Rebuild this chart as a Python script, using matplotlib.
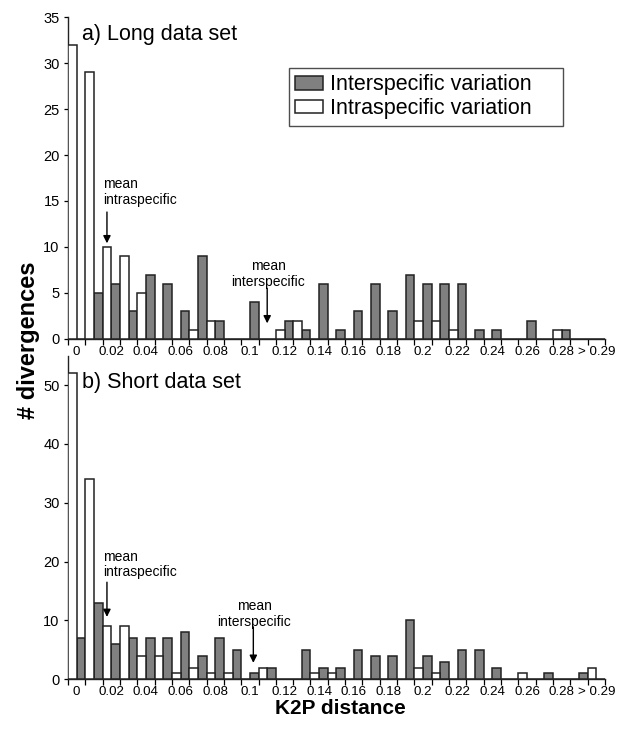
import numpy as np
import matplotlib
matplotlib.use('Agg')
import matplotlib.pyplot as plt

plt.rcParams['font.family'] = ['Liberation Sans', 'DejaVu Sans']

# categories: 0, 0.01, ..., 0.29, > 0.29
categories = ['0', '0.01', '0.02', '0.03', '0.04', '0.05', '0.06', '0.07', '0.08', '0.09',
              '0.1', '0.11', '0.12', '0.13', '0.14', '0.15', '0.16', '0.17', '0.18', '0.19',
              '0.2', '0.21', '0.22', '0.23', '0.24', '0.25', '0.26', '0.27', '0.28', '0.29',
              '> 0.29']

# a) Long data set
long_inter = [0, 5, 6, 3, 7, 6, 3, 9, 2, 0, 4, 0, 2, 1, 6, 1, 3, 6, 3, 7,
              6, 6, 6, 1, 1, 0, 2, 0, 1, 0, 0]
long_intra = [32, 29, 10, 9, 5, 0, 0, 1, 2, 0, 0, 0, 1, 2, 0, 0, 0, 0, 0, 0,
              2, 2, 1, 0, 0, 0, 0, 0, 1, 0, 0]

# b) Short data set
short_inter = [7, 13, 6, 7, 7, 7, 8, 4, 7, 5, 1, 2, 0, 5, 2, 2, 5, 4, 4, 10,
               4, 3, 5, 5, 2, 0, 0, 1, 0, 1, 0]
short_intra = [52, 34, 9, 9, 4, 4, 1, 2, 1, 1, 0, 2, 0, 0, 1, 1, 0, 0, 0, 0,
               2, 1, 0, 0, 0, 0, 1, 0, 0, 0, 2]

# mean positions (category index units)
long_mean_intra = 1.75
long_mean_inter = 11.0
short_mean_intra = 1.75
short_mean_inter = 10.2

fig = plt.figure(figsize=(6.3, 7.31), dpi=100)
ax1 = fig.add_axes([0.1079, 0.5363, 0.8524, 0.4404])
ax2 = fig.add_axes([0.1079, 0.0707, 0.8524, 0.4428])

x = np.arange(len(categories))
w = 0.5


def draw(ax, inter, intra, ymax, yticks):
    ax.bar(x + w / 2, inter, width=w, color='#808080', edgecolor='#222222', linewidth=1.1,
           label='Interspecific variation', zorder=3)
    ax.bar(x - w / 2, intra, width=w, color='white', edgecolor='#222222', linewidth=1.1,
           label='Intraspecific variation', zorder=3)
    ax.set_xlim(-0.5, len(categories) - 0.5)
    ax.set_ylim(0, ymax)
    ax.spines['top'].set_visible(False)
    ax.spines['right'].set_visible(False)
    for s in ('left', 'bottom'):
        ax.spines[s].set_linewidth(1.0)
        ax.spines[s].set_color('#222222')
    # tick marks on category boundaries, labels on every second category
    ax.set_xticks(np.arange(-0.5, len(categories), 1.0))
    ax.set_xticklabels([])
    ax.tick_params(axis='x', which='major', direction='out', length=4, width=0.9)
    ax.set_xticks(x[::2], minor=True)
    ax.set_xticklabels(categories[::2], minor=True, fontsize=9.6)
    ax.tick_params(axis='x', which='minor', length=0, pad=5)
    ax.set_yticks(yticks)
    ax.tick_params(axis='y', direction='out', length=3, width=0.9, labelsize=10.5, pad=3)


draw(ax1, long_inter, long_intra, 35, range(0, 36, 5))
draw(ax2, short_inter, short_intra, 55, range(0, 51, 10))

ax1.text(0.31, 34.2, 'a) Long data set', fontsize=15.5, va='top', ha='left')
ax2.text(0.31, 52.2, 'b) Short data set', fontsize=15.5, va='top', ha='left')

arrow = dict(arrowstyle='-|>', color='black', lw=1.0, mutation_scale=11, shrinkA=0, shrinkB=0)

# top panel annotations
ax1.text(1.52, 17.6, 'mean\nintraspecific', fontsize=10, va='top', ha='left', linespacing=1.15)
ax1.annotate('', xy=(long_mean_intra, 10.4), xytext=(long_mean_intra, 13.8), arrowprops=arrow)
ax1.text(11.05, 8.7, 'mean\ninterspecific', fontsize=10, va='top', ha='center', linespacing=1.15)
ax1.annotate('', xy=(long_mean_inter, 1.7), xytext=(long_mean_inter, 5.5), arrowprops=arrow)

# bottom panel annotations
ax2.text(1.55, 22.0, 'mean\nintraspecific', fontsize=10, va='top', ha='left', linespacing=1.15)
ax2.annotate('', xy=(short_mean_intra, 10.6), xytext=(short_mean_intra, 16.5), arrowprops=arrow)
ax2.text(10.25, 13.6, 'mean\ninterspecific', fontsize=10, va='top', ha='center', linespacing=1.15)
ax2.annotate('', xy=(short_mean_inter, 2.8), xytext=(short_mean_inter, 8.9), arrowprops=arrow)

leg = ax1.legend(loc='upper left', mode='expand',
                 bbox_to_anchor=(289 / 630, 1 - 126 / 731, 274 / 630, 58 / 731),
                 bbox_transform=fig.transFigure, fontsize=15.5, frameon=True, fancybox=False,
                 handlelength=1.3, handleheight=0.6, labelspacing=0.12, borderpad=0.3,
                 handletextpad=0.3, borderaxespad=0)
leg.get_frame().set_edgecolor('#222222')
leg.get_frame().set_linewidth(1.0)

fig.text(0.54, 0.018, 'K2P distance', fontsize=15, fontweight='bold', ha='center', va='bottom')
fig.text(0.045, 0.535, '# divergences', fontsize=17, fontweight='bold', ha='center', va='center',
         rotation=90)

fig.savefig('out.png', dpi=100)
